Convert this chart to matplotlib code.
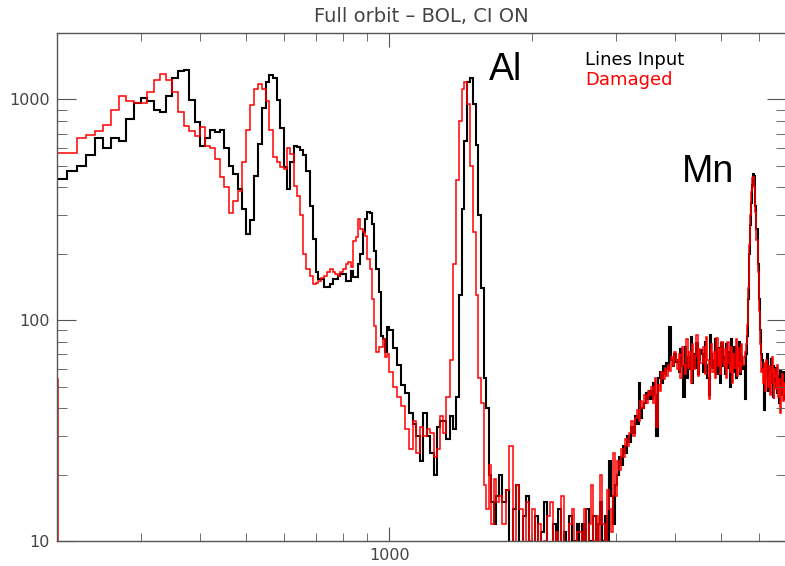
import numpy as np
import matplotlib
matplotlib.use("Agg")
import matplotlib.pyplot as plt
from matplotlib.ticker import LogLocator, NullFormatter, FuncFormatter

# energy bin edges (eV): 10 eV up to 1 keV, 20 eV to 1.7 keV, 30 eV above
edges = np.concatenate([np.arange(200, 1000, 10),
                        np.arange(1000, 1700, 20),
                        np.arange(1700, 6861, 30)])

# counts per bin
lines_lo = [438, 475, 500, 560, 666, 600, 670, 650, 815, 960,
            1020, 980, 900, 880, 1040, 1250, 1350, 1360, 990, 790,
            614, 666, 730, 713, 725, 604, 500, 460, 394, 320,
            245, 283, 450, 630, 910, 1200, 1290, 1250, 990, 740,
            493, 394, 520, 615, 610, 590, 560, 475, 330, 233,
            165, 153, 153, 141, 141, 146, 153, 153, 158, 162,
            162, 150, 150, 167, 157, 157, 180, 200, 250, 288,
            310, 305, 274, 206, 170, 134, 85, 82, 72, 93]
lines_mid = [90, 75, 63, 51, 47, 38, 34, 30, 23, 38,
             30, 25, 20, 33, 35, 35, 29, 37, 32, 45,
             130, 320, 650, 1200, 1250, 950, 620, 300, 140, 55,
             40, 20, 15, 12, 16]
lines_hi = [20, 15, 17, 9, 14, 18, 9, 13, 16, 8,
            8, 13, 7, 11, 15, 8, 6, 12, 9, 14, 7, 11, 8, 13, 6, 10, 12,
            9, 12, 8, 14, 10, 7, 13, 9, 12, 15, 10, 13, 9, 23, 16, 12, 18,
            20, 24, 22, 27, 25, 30, 28, 33, 31, 37, 34, 52, 36, 40, 42, 47, 44,
            48, 44, 52, 46, 30, 55, 58, 52, 62, 57, 64, 60, 93, 66, 62, 70, 65,
            66, 58, 74, 62, 45, 76, 55, 68, 60, 84, 52, 70, 61, 79, 57, 66, 73,
            70, 58, 80, 63, 55, 46, 86, 70, 61, 66, 82, 57, 75, 64, 52, 79, 62,
            68, 57, 78, 61, 72, 50, 82, 64, 58, 76, 55, 72, 62, 80, 57, 69, 60,
            62, 44, 70, 85, 125, 200, 270, 340, 410, 460, 450, 330, 260, 180, 125, 90, 70,
            66, 58, 39, 62, 55, 70, 48, 60, 52, 67, 57, 45, 63, 54, 50, 61, 47, 56,
            42, 59, 51, 46, 58, 44, 53, 49]

damaged_lo = [570, 570, 666, 690, 720, 770, 900, 1040, 980, 960,
              960, 1085, 1220, 1300, 1220, 1085, 880, 755, 720, 680,
              750, 615, 605, 540, 445, 400, 305, 345, 385, 520,
              730, 940, 1110, 1170, 1110, 980, 727, 550, 520, 493,
              485, 600, 565, 405, 366, 300, 200, 170, 158, 146,
              147, 150, 155, 158, 165, 170, 165, 162, 158, 165,
              170, 180, 183, 175, 229, 238, 288, 260, 250, 240,
              190, 170, 125, 94, 72, 76, 76, 82, 68, 70]
damaged_mid = [58, 50, 45, 41, 32, 26, 35, 25, 33, 30,
               32, 31, 24, 26, 37, 31, 45, 66, 180, 430,
               800, 1120, 1200, 950, 500, 250, 130, 55, 42, 18,
               14, 22, 12, 19, 15]
damaged_hi = [16, 12, 17, 27, 9, 18, 14, 8, 15, 10,
              14, 8, 12, 6, 10, 13, 15, 7, 11, 8, 16, 9, 6, 12, 14, 8, 11,
              11, 9, 14, 8, 12, 18, 10, 13, 9, 20, 12, 10, 17, 14, 11, 25, 16,
              23, 21, 26, 24, 29, 27, 31, 35, 30, 36, 39, 35, 43, 40, 46, 42, 48,
              46, 50, 42, 55, 33, 51, 48, 58, 54, 61, 56, 63, 59, 68, 62, 72, 66,
              60, 70, 55, 76, 63, 57, 82, 61, 72, 52, 78, 60, 69, 86, 56, 74, 64,
              64, 76, 57, 84, 66, 44, 61, 78, 58, 72, 55, 83, 62, 74, 57, 80, 65,
              62, 74, 55, 80, 64, 58, 76, 52, 70, 61, 82, 56, 75, 64, 58, 78, 63,
              68, 72, 78, 95, 140, 220, 300, 380, 440, 445, 400, 310, 230, 165, 110, 78, 58,
              60, 52, 64, 48, 66, 55, 50, 62, 46, 58, 68, 52, 44, 60, 56, 49, 63, 45,
              54, 38, 50, 57, 43, 52, 47, 55]
# damaged bin just below the plotted range (only its falling edge shows)
damaged_below = [54]
edges_below = [190, 200]

lines_input = np.array(lines_lo + lines_mid + lines_hi, float)
damaged = np.array(damaged_lo + damaged_mid + damaged_hi, float)

GRAY = "#555555"

fig = plt.figure(figsize=(7.85, 5.66), dpi=100)
ax = fig.add_axes([0.0726, 0.0442, 0.9290, 0.8975])

ax.stairs(lines_input, edges, baseline=None, color="black", lw=1.5)
ax.stairs(damaged, edges, baseline=None, color="red", lw=1.1)
ax.stairs(damaged_below, edges_below, baseline=1, color="red", lw=1.8)

ax.set_xscale("log"); ax.set_yscale("log")
ax.set_xlim(200, 6850); ax.set_ylim(10, 2000)

fmt = FuncFormatter(lambda v, p: f"{v:g}")
for axis in (ax.xaxis, ax.yaxis):
    axis.set_major_locator(LogLocator(base=10))
    axis.set_minor_locator(LogLocator(base=10, subs=np.arange(2, 10)))
    axis.set_major_formatter(fmt)
    axis.set_minor_formatter(NullFormatter())

ax.tick_params(which="both", direction="in", top=True, right=True,
               color=GRAY, labelcolor="#444444", labelsize=11.5, pad=5)
ax.tick_params(axis="y", which="major", length=14)
ax.tick_params(axis="y", which="minor", length=7)
ax.tick_params(axis="x", which="major", length=10)
ax.tick_params(axis="x", which="minor", length=6)
for s in ax.spines.values():
    s.set_color(GRAY); s.set_linewidth(1.0)

ax.set_title("Full orbit – BOL, CI ON", fontsize=14, color="#444444", pad=8)

ax.text(0.724, 0.947, "Lines Input", transform=ax.transAxes, fontsize=13,
        color="black", va="center", ha="left")
ax.text(0.724, 0.9075, "Damaged", transform=ax.transAxes, fontsize=13,
        color="red", va="center", ha="left")
ax.text(0.592, 0.9075, "Al", transform=ax.transAxes, fontsize=27,
        family="Liberation Sans", va="baseline", ha="left")
ax.text(0.857, 0.7067, "Mn", transform=ax.transAxes, fontsize=27,
        family="Liberation Sans", va="baseline", ha="left")

fig.savefig("out.png", dpi=100)
